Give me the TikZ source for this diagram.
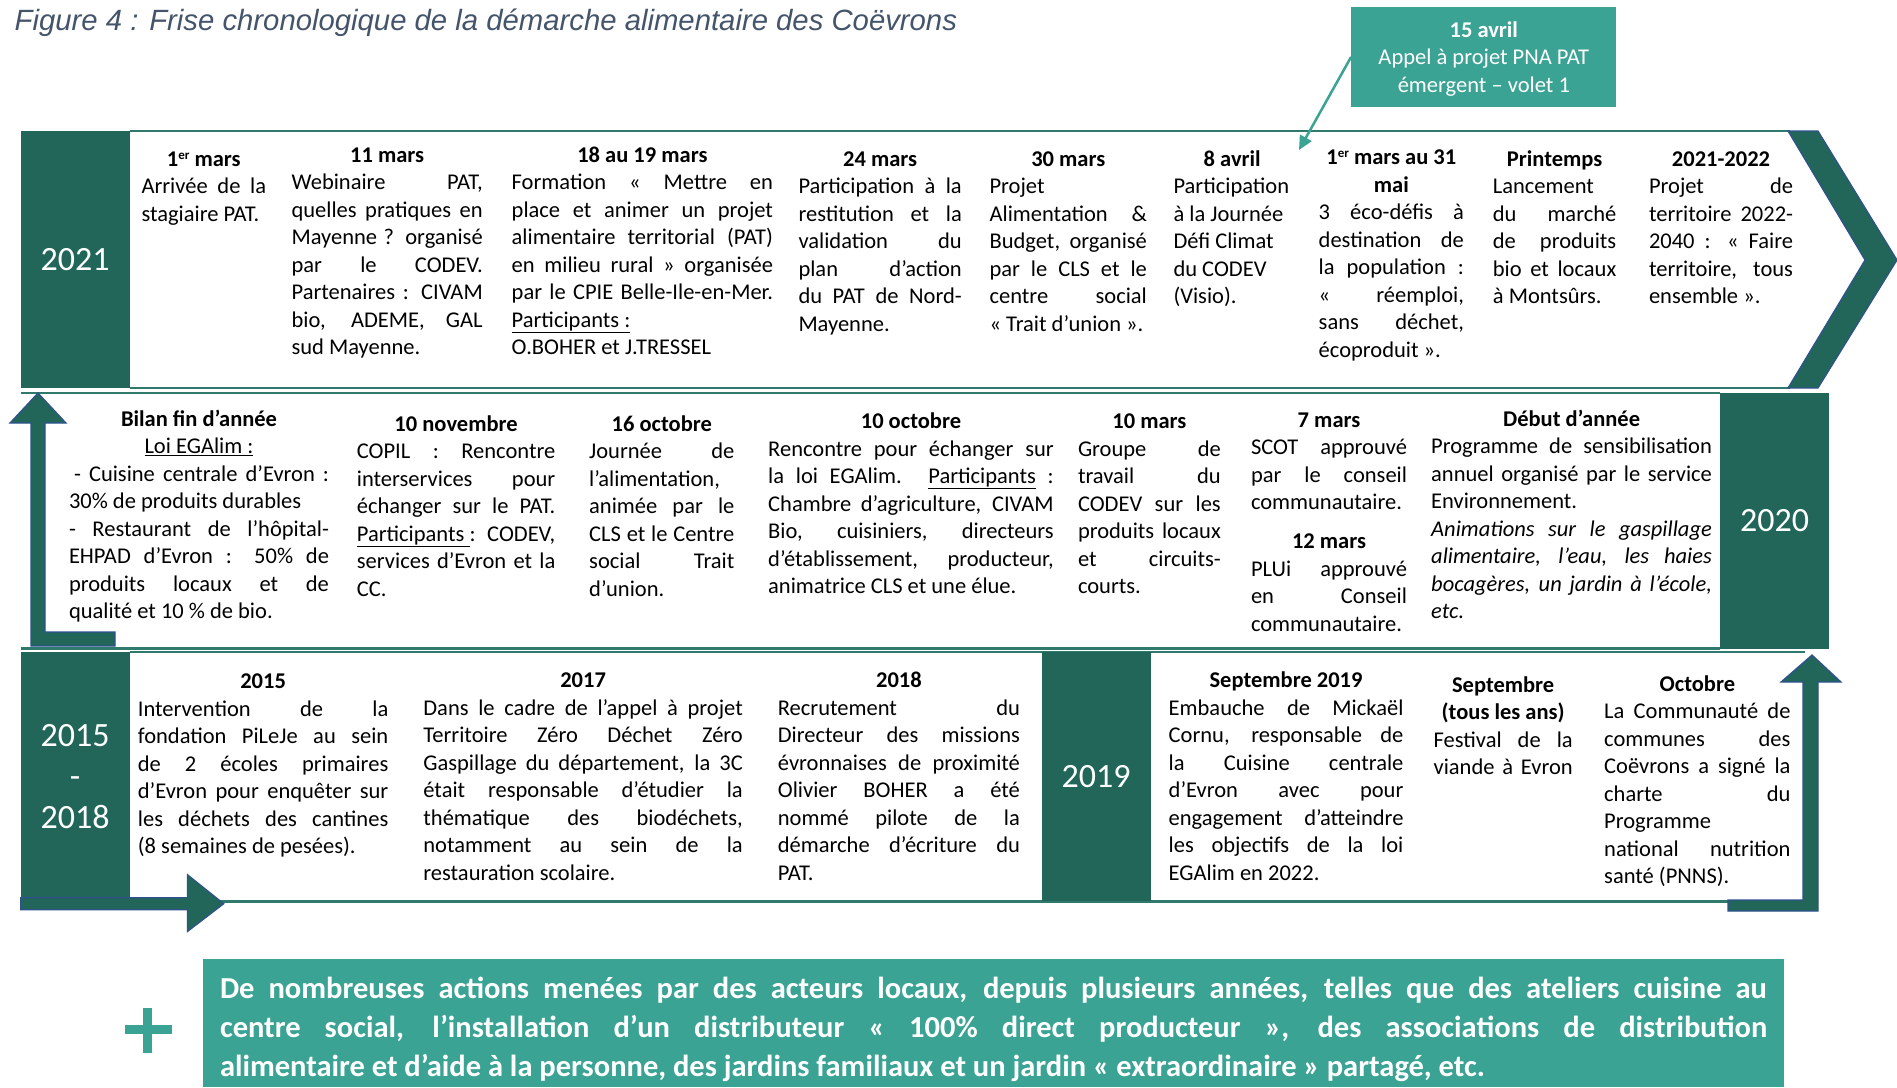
\documentclass[tikz,border=0pt]{standalone}
\usepackage{fontspec}
\usepackage{graphicx}
\usetikzlibrary{arrows.meta}
\setmainfont{Carlito}
\newfontfamily\titlefamily{Liberation Sans}
\definecolor{dkgreen}{HTML}{22665A}
\definecolor{tealbox}{HTML}{3BA394}
\definecolor{bordc}{HTML}{2F7A6C}
\definecolor{outl}{HTML}{2F528F}
\definecolor{titlec}{HTML}{44546A}
\newcommand\bodyfont{\fontsize{22.5pt}{27.5pt}\selectfont}
\newcommand\yearfont{\fontsize{34pt}{41pt}\selectfont}
\newcommand\bigfont{\fontsize{30.5pt}{39.3pt}\selectfont\bfseries}
\newsavebox\lnbox
\newcommand\fitline[2]{\spaceskip=0pt\xspaceskip=0pt\sbox\lnbox{#2}\ifdim\wd\lnbox>\linewidth\resizebox{\linewidth}{\height}{\usebox\lnbox}\else\makebox[\linewidth][#1]{#2}\fi\par}
\newcommand\J[1]{\fitline{s}{#1}}
\newcommand\E[1]{\fitline{l}{#1}}
\newcommand\C[1]{\fitline{c}{#1}}
\newcommand\hd[1]{\fitline{c}{\bfseries #1}}
\newcommand\sups[1]{\raisebox{7pt}{\fontsize{13pt}{13pt}\selectfont #1}}
\tikzset{
  col/.style={anchor=base west, inner sep=0pt, outer sep=0pt, align=left, font=\bodyfont, text=black},
  yearbox/.style={fill=dkgreen, text=white, font=\yearfont, inner sep=0pt, align=center},
  bord/.style={draw=bordc, line width=2.5pt},
  shapeout/.style={fill=dkgreen, draw=outl, line width=1.2pt}
}
\begin{document}
\begin{tikzpicture}[x=1pt,y=-1pt]
\useasboundingbox (0,0) rectangle (1897,1087);
\fill[white] (0,0) rectangle (1897,1087);

% title
\node[anchor=base west, inner sep=0pt, text=titlec, font=\titlefamily\itshape\fontsize{29.3pt}{33pt}\selectfont] (title) at (14.5,30.5) {Figure 4 : Frise chronologique de la démarche alimentaire des Coëvrons};

% ---------- row 1 (2021)
\draw[bord] (129.5,131) -- (1790,131);
\draw[bord] (129.5,388) -- (1790,388);
\path[shapeout] (1788,131) -- (1818,131) -- (1897,260) -- (1818,388) -- (1788,388) -- (1865,260) -- cycle;
\node[yearbox, minimum width=108.9pt, minimum height=257.3pt] (y2021) at (75.05,259.65) {2021};

% ---------- row 2 (2020)
\draw[bord] (20.6,393) -- (1720,393);
\draw[bord] (20.6,648.5) -- (1720,648.5);
\node[yearbox, minimum width=109pt, minimum height=255.5pt] (y2020) at (1774.5,520.75) {2020};
\path[shapeout] (38,393) -- (66,423) -- (45,423) -- (45,632) -- (115,632) -- (115,646) -- (31,646) -- (31,423) -- (10,423) -- cycle;

% ---------- row 3 (2015-2018 / 2019)
\draw[bord] (129.5,652) -- (1805,652);
\draw[bord] (129.5,901.3) -- (1730,901.3);
\node[yearbox, minimum width=108.9pt, minimum height=249.3pt] (y1518) at (75.05,776.65) {\fontsize{34pt}{41pt}\selectfont 2015\\-\\2018};
\node[yearbox, minimum width=108.8pt, minimum height=249.3pt] (y2019) at (1096.1,776.65) {2019};
\path[shapeout] (20.6,897.7) -- (187.5,897.7) -- (187.5,874.7) -- (223.8,903.7) -- (187.5,931.5) -- (187.5,909.8) -- (20.6,909.8) -- cycle;
\path[shapeout] (1812,655) -- (1841,682) -- (1818,682) -- (1818,911) -- (1728,911) -- (1728,900) -- (1803,900) -- (1803,682) -- (1781,682) -- cycle;

% ---------- 15 avril callout
\node[fill=tealbox, text=white, font=\bodyfont, align=center, minimum width=265pt, minimum height=99.3pt, inner sep=0pt] (avril) at (1483.8,56.9) {{\bfseries\rule{0pt}{20pt}15 avril}\\Appel à projet PNA PAT\\émergent – volet 1};
\coordinate (avriltip) at (1299,150);
\draw[tealbox, line width=2.5pt, -{Triangle[length=14pt,width=13pt]}] (avril.west) -- (avriltip);

% ---------- row 1 texts
\node[col, text width=124.6pt] (r1a) at (141.5,166) {\hd{1\sups{er} mars}\J{Arrivée de la}\E{stagiaire PAT.}};
\node[col, text width=191.1pt] (r1b) at (291.6,162.4) {\hd{11 mars}\J{Webinaire PAT,}\J{quelles pratiques en}\J{Mayenne ? organisé}\J{par le CODEV.}\J{Partenaires : CIVAM}\J{bio, ADEME, GAL}\E{sud Mayenne.}};
\node[col, text width=261.3pt] (r1c) at (511.7,162.4) {\hd{18 au 19 mars}\J{Formation « Mettre en}\J{place et animer un projet}\J{alimentaire territorial (PAT)}\J{en milieu rural » organisée}\J{par le CPIE Belle-Ile-en-Mer.}\E{\underline{Participants :}}\E{O.BOHER et J.TRESSEL}};
\node[col, text width=163.3pt] (r1d) at (798.5,166) {\hd{24 mars}\J{Participation à la}\J{restitution et la}\J{validation du}\J{plan d'action}\J{du PAT de Nord-}\E{Mayenne.}};
\node[col, text width=157.3pt] (r1e) at (989.6,166) {\hd{30 mars}\E{Projet}\J{Alimentation \&}\J{Budget, organisé}\J{par le CLS et le}\J{centre social}\E{« Trait d'union ».}};
\node[col, text width=117.4pt] (r1f) at (1173.5,166) {\hd{8 avril}\E{Participation}\E{à la Journée}\E{Défi Climat}\E{du CODEV}\E{(Visio).}};
\node[col, text width=145.2pt] (r1g) at (1318.7,164.8) {\hd{1\sups{er} mars au 31}\hd{mai}\J{3 éco-défis à}\J{destination de}\J{la population :}\J{« réemploi,}\J{sans déchet,}\E{écoproduit ».}};
\node[col, text width=123.4pt] (r1h) at (1492.9,166) {\hd{Printemps}\E{Lancement}\J{du marché}\J{de produits}\J{bio et locaux}\E{à Montsûrs.}};
\node[col, text width=144pt] (r1i) at (1649,166) {\hd{2021-2022}\J{Projet de}\J{territoire 2022-}\J{2040 : « Faire}\J{territoire, tous}\E{ensemble ».}};

% ---------- row 2 texts
\node[col, text width=260pt] (r2a) at (69,426) {\hd{Bilan fin d'année}\C{\underline{Loi EGAlim :}}\J{\hspace{5pt}- Cuisine centrale d'Evron :}\E{30\% de produits durables}\J{- Restaurant de l'hôpital-}\J{EHPAD d'Evron : 50\% de}\J{produits locaux et de}\E{qualité et 10 \% de bio.}};
\node[col, text width=198.4pt] (r2b) at (356.9,431) {\hd{10 novembre}\J{COPIL : Rencontre}\J{interservices pour}\J{échanger sur le PAT.}\J{\underline{Participants\ }: CODEV,}\J{services d'Evron et la}\E{CC.}};
\node[col, text width=145.2pt] (r2c) at (589.2,431) {\hd{16 octobre}\J{Journée de}\E{l'alimentation,}\J{animée par le}\J{CLS et le Centre}\J{social Trait}\E{d'union.}};
\node[col, text width=285.5pt] (r2d) at (768.2,428.5) {\hd{10 octobre}\J{Rencontre pour échanger sur}\J{la loi EGAlim. \underline{Participants} :}\J{Chambre d'agriculture, CIVAM}\J{Bio, cuisiniers, directeurs}\J{d'établissement, producteur,}\E{animatrice CLS et une élue.}};
\node[col, text width=142.8pt] (r2e) at (1078,428.5) {\hd{10 mars}\J{Groupe de}\J{travail du}\J{CODEV sur les}\J{produits locaux}\J{et circuits-}\E{courts.}};
\node[col, text width=156pt] (r2f) at (1251,427.3) {\hd{7 mars}\J{SCOT approuvé}\J{par le conseil}\E{communautaire.}\vspace{11.5pt}\hd{12 mars}\J{PLUi approuvé}\J{en Conseil}\E{communautaire.}};
\node[col, text width=280.7pt] (r2g) at (1431.2,426) {\hd{Début d'année}\J{Programme de sensibilisation}\J{annuel organisé par le service}\E{Environnement.}\J{\itshape Animations sur le gaspillage}\J{\itshape alimentaire, l'eau, les haies}\J{\itshape bocagères, un jardin à l'école,}\E{\itshape etc.}};

% ---------- row 3 texts
\node[col, text width=250.4pt] (r3a) at (137.9,688.5) {\hd{2015}\J{Intervention de la}\J{fondation PiLeJe au sein}\J{de 2 écoles primaires}\J{d'Evron pour enquêter sur}\J{les déchets des cantines}\E{(8 semaines de pesées).}};
\node[col, text width=319.4pt] (r3b) at (423.4,687.5) {\hd{2017}\J{Dans le cadre de l'appel à projet}\J{Territoire Zéro Déchet Zéro}\J{Gaspillage du département, la 3C}\J{était responsable d'étudier la}\J{thématique des biodéchets,}\J{notamment au sein de la}\E{restauration scolaire.}};
\node[col, text width=242pt] (r3c) at (777.9,687.5) {\hd{2018}\J{Recrutement du}\J{Directeur des missions}\J{évronnaises de proximité}\J{Olivier BOHER a été}\J{nommé pilote de la}\J{démarche d'écriture du}\E{PAT.}};
\node[col, text width=234.7pt] (r3d) at (1168.7,687.5) {\hd{Septembre 2019}\J{Embauche de Mickaël}\J{Cornu, responsable de}\J{la Cuisine centrale}\J{d'Evron avec pour}\J{engagement d'atteindre}\J{les objectifs de la loi}\E{EGAlim en 2022.}};
\node[col, text width=139.1pt] (r3e) at (1433.6,692.3) {\hd{Septembre}\hd{(tous les ans)}\J{Festival de la}\J{viande à Evron}};
\node[col, text width=186.3pt] (r3f) at (1604.2,691) {\hd{Octobre}\J{La Communauté de}\J{communes des}\J{Coëvrons a signé la}\J{charte du}\E{Programme}\J{national nutrition}\E{santé (PNNS).}};

% ---------- bottom box
\fill[tealbox] (203,959) rectangle (1784,1087);
\node[col, text width=1547pt, font=\bigfont, text=white] (actions) at (220,998) {\J{De nombreuses actions menées par des acteurs locaux, depuis plusieurs années, telles que des ateliers cuisine au}\J{centre social, l'installation d'un distributeur « 100\% direct producteur », des associations de distribution}\E{alimentaire et d'aide à la personne, des jardins familiaux et un jardin « extraordinaire » partagé, etc.}};
\fill[tealbox] (124.6,1025.3) rectangle (171.8,1033.8);
\fill[tealbox] (143.4,1008) rectangle (151.9,1052.5);
\end{tikzpicture}
\end{document}
